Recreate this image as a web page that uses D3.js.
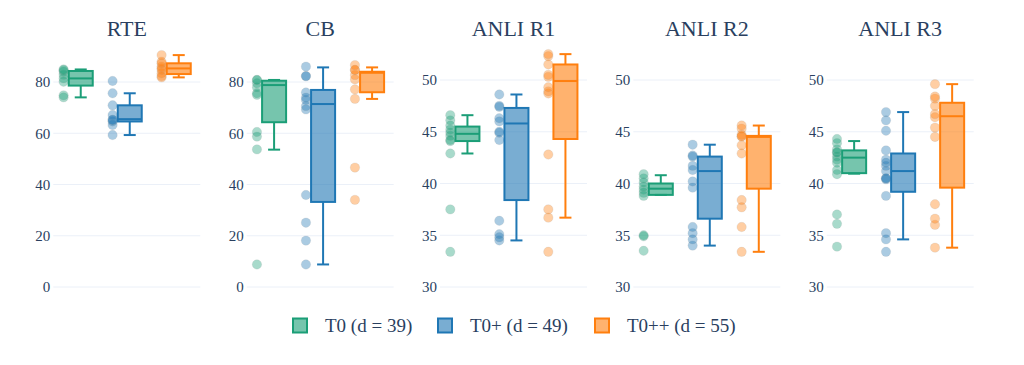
<!DOCTYPE html>
<html>
<head>
<meta charset="utf-8">
<script src="https://cdn.jsdelivr.net/npm/d3@7"></script>
<style>
  html, body { margin: 0; padding: 0; background: #fff; }
  svg { display: block; }
  text { font-family: "Liberation Serif", "Times New Roman", serif; fill: #2a3f5f; }
</style>
</head>
<body>
<svg id="chart" width="1024" height="365"></svg>
<script>
// ---------- DATA ----------
const panels = ["RTE", "CB", "ANLI R1", "ANLI R2", "ANLI R3"];
const seriesNames = ["T0", "T0+", "T0++"];
const legendLabels = ["T0 (d = 39)", "T0+ (d = 49)", "T0++ (d = 55)"];
const colors = ["#1b9e77", "#1f77b4", "#ff7f0e"];

const ticksLarge = [0, 20, 40, 60, 80];
const ticksAnli = [30, 35, 40, 45, 50];

// individual points (per panel, per series)
const ptsRTE = [
  [74.0, 74.8, 80.1, 81.4, 82.8, 84.0, 84.6, 84.9],
  [59.3, 63.2, 64.6, 65.2, 65.2, 67.1, 70.9, 75.6, 80.4],
  [81.8, 82.3, 83.4, 84.7, 85.3, 86.0, 87.3, 87.9, 90.5]
];
const ptsCB = [
  [8.8, 53.7, 58.7, 60.5, 75.0, 75.6, 77.9, 79.5, 80.8, 80.8],
  [8.8, 18.1, 25.1, 35.9, 69.3, 70.6, 73.0, 73.9, 75.9, 82.3, 82.3, 86.0],
  [34.0, 46.6, 73.4, 77.1, 81.0, 82.7, 84.7, 84.7, 86.6]
];
const ptsR1 = [
  [33.4, 37.5, 42.9, 44.1, 44.2, 44.6, 44.9, 45.2, 45.6, 46.1, 46.6],
  [34.5, 34.8, 35.1, 36.4, 44.2, 44.9, 45.0, 46.0, 46.3, 47.4, 47.5, 48.6],
  [33.4, 36.7, 37.5, 42.8, 48.7, 48.9, 49.3, 50.3, 50.5, 51.5, 52.3, 52.5]
];
const ptsR2 = [
  [33.5, 34.9, 35.0, 38.8, 39.1, 39.4, 39.7, 40.1, 40.5, 40.9],
  [34.0, 34.6, 35.2, 35.8, 39.6, 40.2, 41.3, 41.7, 42.6, 42.7, 43.75],
  [33.4, 35.8, 37.7, 38.4, 42.9, 43.7, 44.55, 44.55, 44.7, 45.3, 45.6]
];
const ptsR3 = [
  [33.9, 36.1, 37.0, 40.9, 41.3, 42.0, 42.3, 42.6, 43.0, 43.0, 43.3, 43.9, 44.3],
  [33.4, 34.6, 35.2, 38.8, 40.4, 40.5, 40.5, 41.2, 41.7, 42.0, 42.3, 43.2, 45.1, 46.1, 46.9],
  [33.8, 36.0, 36.6, 38.0, 44.5, 45.4, 46.4, 46.7, 47.5, 48.2, 48.4, 49.6]
];
const panelPoints = [ptsRTE, ptsCB, ptsR1, ptsR2, ptsR3];

// box statistics: [lower whisker, q1, median, q3, upper whisker]
const boxRTE = [[74.0, 78.6, 81.4, 84.3, 84.9], [59.3, 64.6, 65.5, 70.9, 75.6], [81.8, 83.1, 85.3, 87.3, 90.5]];
const boxCB  = [[53.6, 64.3, 78.8, 80.5, 80.8], [8.8, 33.2, 71.4, 76.9, 85.7], [73.4, 76.0, 83.6, 84.0, 85.7]];
const boxR1  = [[42.9, 44.1, 44.8, 45.5, 46.6], [34.5, 38.4, 45.8, 47.3, 48.6], [36.7, 44.3, 49.9, 51.5, 52.5]];
const boxR2  = [[38.9, 38.9, 39.5, 40.0, 40.8], [34.0, 36.6, 41.2, 42.6, 43.75], [33.4, 39.5, 44.5, 44.6, 45.6]];
const boxR3  = [[40.95, 41.0, 42.5, 43.2, 44.1], [34.6, 39.2, 41.2, 42.9, 46.9], [33.8, 39.6, 46.5, 47.8, 49.6]];
const panelBoxes = [boxRTE, boxCB, boxR1, boxR2, boxR3];

// ---------- LAYOUT ----------
const svg = d3.select("#chart");
const panelX0 = 53.3, panelStep = 193.35, panelW = 147;
const yBottom = 287;
const serif = '"Liberation Serif", "Times New Roman", serif';

const yLarge = d3.scaleLinear().domain([0, 80]).range([yBottom, 82]);
const yAnli = d3.scaleLinear().domain([30, 50]).range([yBottom, 80]);

panels.forEach((name, pi) => {
  const x0 = panelX0 + pi * panelStep;
  const y = pi < 2 ? yLarge : yAnli;
  const ticks = pi < 2 ? ticksLarge : ticksAnli;
  const g = svg.append("g");

  const xb = d3.scaleBand().domain(seriesNames).range([x0, x0 + panelW]);
  const bw = xb.bandwidth();

  // gridlines
  g.selectAll("line.grid").data(ticks).enter().append("line")
    .attr("x1", x0).attr("x2", x0 + panelW)
    .attr("y1", d => y(d)).attr("y2", d => y(d))
    .attr("stroke", "#ebf0f8").attr("stroke-width", 1);

  // axis labels via d3 axis
  const axis = d3.axisLeft(y).tickValues(ticks).tickSize(0).tickPadding(3);
  const ag = g.append("g").attr("transform", `translate(${x0},0)`).call(axis)
    .attr("font-family", serif).attr("font-size", 15);
  ag.select(".domain").remove();
  ag.selectAll("text").style("font-size", "15px").style("fill", "#2a3f5f")
    .style("font-family", serif);

  // title
  g.append("text").attr("x", x0 + panelW / 2).attr("y", 36)
    .attr("text-anchor", "middle").style("font-size", "22px").text(name);

  seriesNames.forEach((s, si) => {
    const col = colors[si];
    const cx = xb(s) + bw / 2 + 0.06 * bw;
    const w = 0.49 * bw;
    const px = cx - 0.35 * bw;
    const [lo, q1, med, q3, hi] = panelBoxes[pi][si];

    // points
    g.selectAll(null).data(panelPoints[pi][si]).enter().append("circle")
      .attr("cx", px).attr("cy", d => y(d)).attr("r", 4.7)
      .attr("fill", col).attr("fill-opacity", 0.38)
      .attr("stroke", "#999").attr("stroke-opacity", 0.15).attr("stroke-width", 1);

    const bg = g.append("g");
    // whiskers
    bg.append("line").attr("x1", cx).attr("x2", cx).attr("y1", y(q3)).attr("y2", y(hi))
      .attr("stroke", col).attr("stroke-width", 2);
    bg.append("line").attr("x1", cx).attr("x2", cx).attr("y1", y(q1)).attr("y2", y(lo))
      .attr("stroke", col).attr("stroke-width", 2);
    [lo, hi].forEach(v => {
      bg.append("line").attr("x1", cx - w / 4).attr("x2", cx + w / 4)
        .attr("y1", y(v)).attr("y2", y(v)).attr("stroke", col).attr("stroke-width", 2);
    });
    // box
    bg.append("rect").attr("x", cx - w / 2).attr("width", w)
      .attr("y", y(q3)).attr("height", Math.max(0.5, y(q1) - y(q3)))
      .attr("fill", col).attr("fill-opacity", 0.6)
      .attr("stroke", col).attr("stroke-width", 2);
    bg.append("line").attr("x1", cx - w / 2).attr("x2", cx + w / 2)
      .attr("y1", y(med)).attr("y2", y(med)).attr("stroke", col).attr("stroke-width", 2);
  });
});

// ---------- LEGEND ----------
const legendX = [293, 438, 595];
const lg = svg.append("g");
legendLabels.forEach((lab, i) => {
  lg.append("rect").attr("x", legendX[i]).attr("y", 318.5).attr("width", 14).attr("height", 14)
    .attr("fill", colors[i]).attr("fill-opacity", 0.6)
    .attr("stroke", colors[i]).attr("stroke-width", 2);
  lg.append("text").attr("x", legendX[i] + 32).attr("y", 332)
    .style("font-size", "19px").text(lab);
});
</script>
</body>
</html>
